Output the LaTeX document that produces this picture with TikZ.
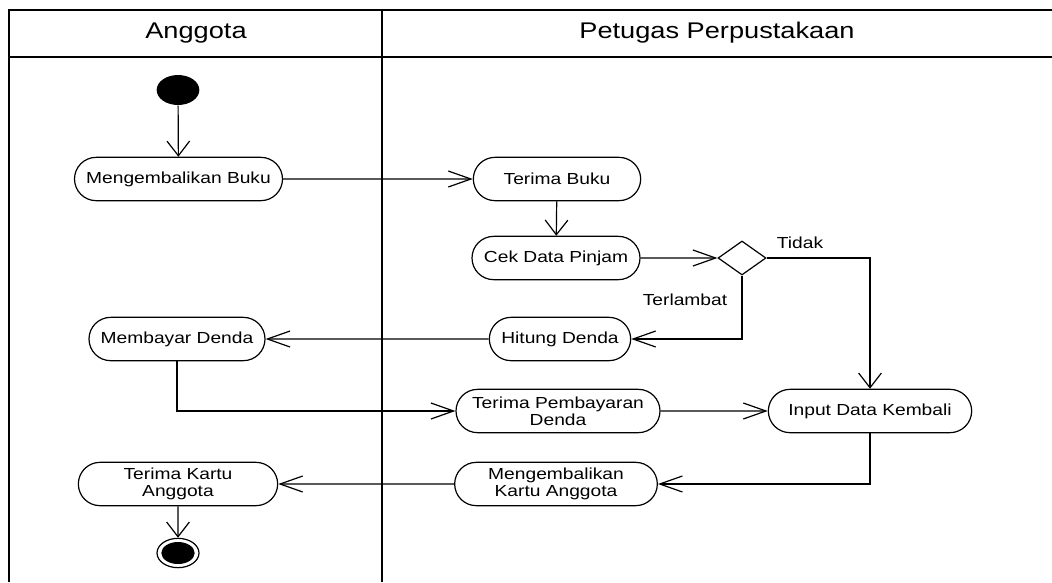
\documentclass[tikz,border=0pt]{standalone}
\usepackage{fontspec}
\setmainfont{Liberation Sans}[FakeStretch=1.2]
\usetikzlibrary{shapes.misc,shapes.geometric,arrows.meta}

\begin{document}
\begin{tikzpicture}[x=0.75pt,y=-0.75pt,line width=0.9pt]
\tikzstyle{every node}=[font=\fontsize{12}{12.5}\selectfont]
\tikzstyle{act}=[draw, rounded rectangle, minimum height=32.5pt, inner sep=1pt, align=center]
\tikzstyle{hto}=[-{Straight Barb[length=17pt,width=12pt]}]
\tikzstyle{vto}=[-{Straight Barb[length=11pt,width=17pt]}]
\tikzstyle{lane}=[line width=1.1pt]
\tikzstyle{head}=[font=\fontsize{17}{18}\selectfont]
\useasboundingbox (0,0) rectangle (1052,582);
% swimlanes
\draw[lane] (9,582) -- (9,10) -- (1052,10);
\draw[lane] (9,57) -- (1052,57);
\draw[lane] (382,10) -- (382,582);
\path node[head] (hAng) at (196,33) {Anggota};
\path node[head] (hPet) at (717,33) {Petugas Perpustakaan};

% anggota
\path node[ellipse, fill, inner sep=0pt, minimum width=32pt, minimum height=22.5pt] (start) at (178,90) {};
\path node[act, minimum width=158pt] (mb) at (178.5,179) {Mengembalikan Buku};
\path node[act, minimum width=134pt] (byr) at (177,339) {Membayar Denda};
\path node[act, minimum width=151.5pt] (tka) at (178,484) {Terima Kartu\\Anggota};
\path node[ellipse, draw, inner sep=0pt, minimum width=31.5pt, minimum height=22pt] (end) at (178,553) {};
\path node[ellipse, fill, inner sep=0pt, minimum width=25pt, minimum height=16.5pt] (endin) at (178,553) {};

% petugas
\path node[act, minimum width=127.5pt] (tb) at (557,179) {Terima Buku};
\path node[act, minimum width=128pt] (cdp) at (556,258) {Cek Data Pinjam};
\path node[diamond, draw, inner sep=0pt, minimum width=36pt, minimum height=25.5pt] (dec) at (742,258) {};
\path node[act, minimum width=108pt] (hd) at (560,339) {Hitung Denda};
\path node[act, minimum width=155pt] (tpd) at (558,411) {Terima Pembayaran\\Denda};
\path node[act, minimum width=154.5pt] (idk) at (870,411) {Input Data Kembali};
\path node[act, minimum width=154pt] (mka) at (556,484) {Mengembalikan\\Kartu Anggota};
\path node (lTidak) at (800,243) {Tidak};
\path node (lLambat) at (685,300) {Terlambat};

% alur
\path[vto] (start) edge (mb);
\path[hto] (mb) edge (tb);
\path[vto] (tb) edge (cdp);
\path[hto] (cdp) edge (dec);
\draw[vto] (dec.east) -| (idk.north);
\draw[hto] (dec.south) |- (hd.east);
\path[hto] (hd) edge (byr);
\draw[hto] (byr.south) |- (tpd.west);
\path[hto] (tpd) edge (idk);
\draw[hto] (idk.south) |- (mka.east);
\path[hto] (mka) edge (tka);
\path[vto] (tka) edge (end);
\end{tikzpicture}
\end{document}
